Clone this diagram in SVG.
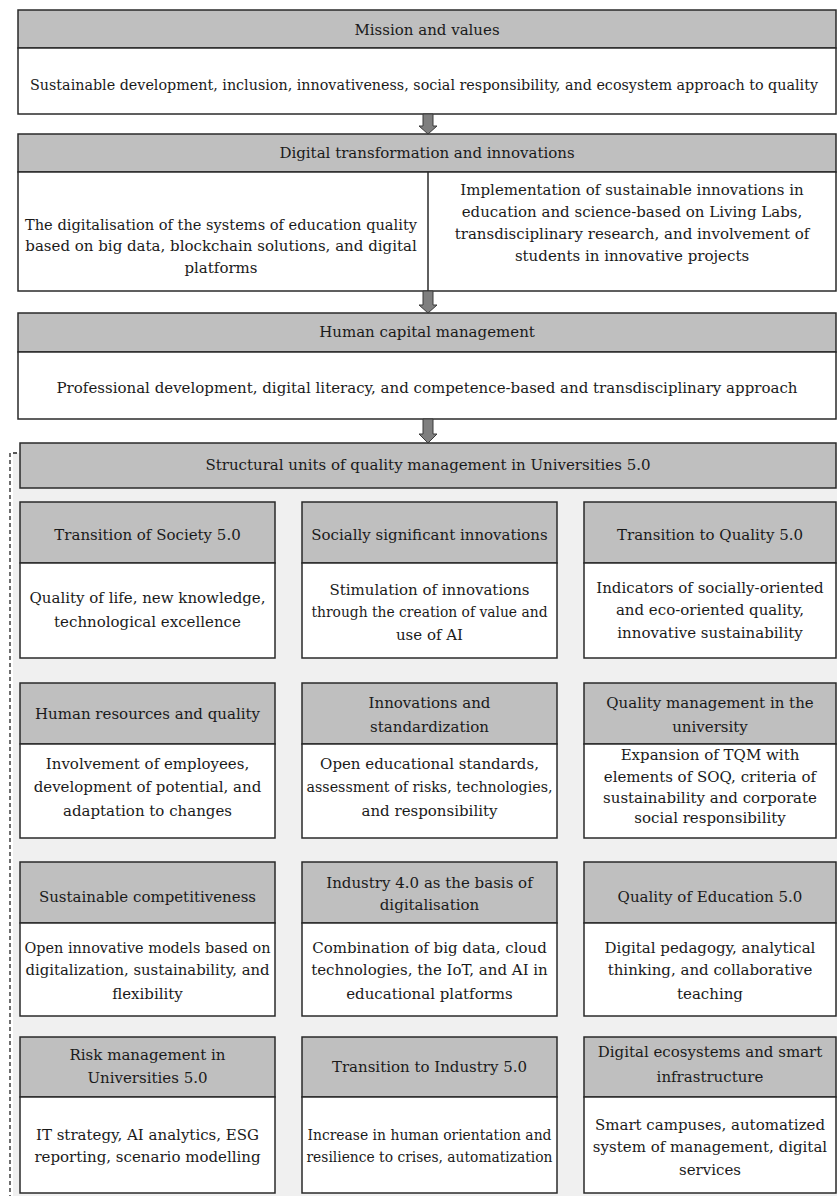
<svg xmlns="http://www.w3.org/2000/svg" width="837" height="1196" viewBox="0 0 837 1196" font-family="DejaVu Serif, serif" font-size="15">
<style>
.hd{fill:#bfbfbf;stroke:#2a2a2a;stroke-width:1.5}
.bd{fill:#ffffff;stroke:#2a2a2a;stroke-width:1.5}
.ln{stroke:#2a2a2a;stroke-width:1.5}
.t{fill:#1a1a1a;text-anchor:middle}
.arr{fill:#7f7f7f;stroke:#3a3a3a;stroke-width:1}
</style>
<rect x="0" y="0" width="837" height="1196" fill="#ffffff"/>
<rect x="13" y="453" width="830" height="750" fill="#f0f0f0"/>
<path d="M17,453 H10 V1196" fill="none" stroke="#222" stroke-width="1.3" stroke-dasharray="4,3"/>

<g id="mission" font-family="DejaVu Serif, serif" font-size="15">
<rect class="hd" x="18" y="10" width="818" height="38"/>
<rect class="bd" x="18" y="48" width="818" height="66"/>
<text class="t" x="427" y="35">Mission and values</text>
<text class="t" x="424" y="90" font-size="14.2" textLength="788" lengthAdjust="spacingAndGlyphs">Sustainable development, inclusion, innovativeness, social responsibility, and ecosystem approach to quality</text>
</g>

<g id="digital" font-family="DejaVu Serif, serif" font-size="15">
<rect class="hd" x="18" y="134" width="818" height="38"/>
<rect class="bd" x="18" y="172" width="818" height="119"/>
<line class="ln" x1="428" y1="172" x2="428" y2="291"/>
<text class="t" x="427" y="158">Digital transformation and innovations</text>
<text class="t" x="221" y="230" textLength="392" lengthAdjust="spacingAndGlyphs">The digitalisation of the systems of education quality</text>
<text class="t" x="221" y="251">based on big data, blockchain solutions, and digital</text>
<text class="t" x="221" y="273">platforms</text>
<text class="t" x="632" y="195">Implementation of sustainable innovations in</text>
<text class="t" x="632" y="217">education and science-based on Living Labs,</text>
<text class="t" x="632" y="239">transdisciplinary research, and involvement of</text>
<text class="t" x="632" y="261">students in innovative projects</text>
</g>

<g id="human" font-family="DejaVu Serif, serif" font-size="15">
<rect class="hd" x="18" y="313" width="818" height="39"/>
<rect class="bd" x="18" y="352" width="818" height="67"/>
<text class="t" x="427" y="337">Human capital management</text>
<text class="t" x="427" y="393">Professional development, digital literacy, and competence-based and transdisciplinary approach</text>
</g>

<g id="structural" font-family="DejaVu Serif, serif" font-size="15">
<rect class="hd" x="20" y="443" width="816" height="45"/>
<text class="t" x="428" y="470">Structural units of quality management in Universities 5.0</text>
</g>

<g id="connectors">
<path class="arr" d="M423,114 H433 V126 H437 L428,134 L419,126 H423 Z"/>
<path class="arr" d="M423,291 H433 V305 H437 L428,313 L419,305 H423 Z"/>
<path class="arr" d="M423,419 H433 V434 H437 L428,443 L419,434 H423 Z"/>
</g>

<g id="c11" font-family="DejaVu Serif, serif" font-size="15">
<rect class="hd" x="20" y="502" width="255" height="61"/>
<rect class="bd" x="20" y="563" width="255" height="95"/>
<text class="t" x="147.5" y="540">Transition of Society 5.0</text>
<text class="t" x="147.5" y="603">Quality of life, new knowledge,</text>
<text class="t" x="147.5" y="627">technological excellence</text>
</g>
<g id="c12" font-family="DejaVu Serif, serif" font-size="15">
<rect class="hd" x="302" y="502" width="255" height="61"/>
<rect class="bd" x="302" y="563" width="255" height="95"/>
<text class="t" x="429.5" y="540">Socially significant innovations</text>
<text class="t" x="429.5" y="595">Stimulation of innovations</text>
<text class="t" x="429.5" y="617" textLength="236" lengthAdjust="spacingAndGlyphs">through the creation of value and</text>
<text class="t" x="429.5" y="640">use of AI</text>
</g>
<g id="c13" font-family="DejaVu Serif, serif" font-size="15">
<rect class="hd" x="584" y="502" width="252" height="61"/>
<rect class="bd" x="584" y="563" width="252" height="95"/>
<text class="t" x="710" y="540">Transition to Quality 5.0</text>
<text class="t" x="710" y="593">Indicators of socially-oriented</text>
<text class="t" x="710" y="615">and eco-oriented quality,</text>
<text class="t" x="710" y="638">innovative sustainability</text>
</g>

<g id="c21" font-family="DejaVu Serif, serif" font-size="15">
<rect class="hd" x="20" y="683" width="255" height="61"/>
<rect class="bd" x="20" y="744" width="255" height="94"/>
<text class="t" x="147.5" y="719">Human resources and quality</text>
<text class="t" x="147.5" y="769">Involvement of employees,</text>
<text class="t" x="147.5" y="792">development of potential, and</text>
<text class="t" x="147.5" y="816">adaptation to changes</text>
</g>
<g id="c22" font-family="DejaVu Serif, serif" font-size="15">
<rect class="hd" x="302" y="683" width="255" height="61"/>
<rect class="bd" x="302" y="744" width="255" height="94"/>
<text class="t" x="429.5" y="708">Innovations and</text>
<text class="t" x="429.5" y="732">standardization</text>
<text class="t" x="429.5" y="769">Open educational standards,</text>
<text class="t" x="429.5" y="792" textLength="246" lengthAdjust="spacingAndGlyphs">assessment of risks, technologies,</text>
<text class="t" x="429.5" y="816">and responsibility</text>
</g>
<g id="c23" font-family="DejaVu Serif, serif" font-size="15">
<rect class="hd" x="584" y="683" width="252" height="61"/>
<rect class="bd" x="584" y="744" width="252" height="94"/>
<text class="t" x="710" y="708">Quality management in the</text>
<text class="t" x="710" y="732">university</text>
<text class="t" x="710" y="760">Expansion of TQM with</text>
<text class="t" x="710" y="782">elements of SOQ, criteria of</text>
<text class="t" x="710" y="803">sustainability and corporate</text>
<text class="t" x="710" y="823">social responsibility</text>
</g>

<g id="c31" font-family="DejaVu Serif, serif" font-size="15">
<rect class="hd" x="20" y="862" width="255" height="61"/>
<rect class="bd" x="20" y="923" width="255" height="93"/>
<text class="t" x="147.5" y="902">Sustainable competitiveness</text>
<text class="t" x="147.5" y="953" textLength="246" lengthAdjust="spacingAndGlyphs">Open innovative models based on</text>
<text class="t" x="147.5" y="975" textLength="244" lengthAdjust="spacingAndGlyphs">digitalization, sustainability, and</text>
<text class="t" x="147.5" y="999">flexibility</text>
</g>
<g id="c32" font-family="DejaVu Serif, serif" font-size="15">
<rect class="hd" x="302" y="862" width="255" height="61"/>
<rect class="bd" x="302" y="923" width="255" height="93"/>
<text class="t" x="429.5" y="888">Industry 4.0 as the basis of</text>
<text class="t" x="429.5" y="910">digitalisation</text>
<text class="t" x="429.5" y="953">Combination of big data, cloud</text>
<text class="t" x="429.5" y="975">technologies, the IoT, and AI in</text>
<text class="t" x="429.5" y="999">educational platforms</text>
</g>
<g id="c33" font-family="DejaVu Serif, serif" font-size="15">
<rect class="hd" x="584" y="862" width="252" height="61"/>
<rect class="bd" x="584" y="923" width="252" height="93"/>
<text class="t" x="710" y="902">Quality of Education 5.0</text>
<text class="t" x="710" y="953">Digital pedagogy, analytical</text>
<text class="t" x="710" y="975">thinking, and collaborative</text>
<text class="t" x="710" y="999">teaching</text>
</g>

<g id="c41" font-family="DejaVu Serif, serif" font-size="15">
<rect class="hd" x="20" y="1037" width="255" height="60"/>
<rect class="bd" x="20" y="1097" width="255" height="96"/>
<text class="t" x="147.5" y="1060">Risk management in</text>
<text class="t" x="147.5" y="1083">Universities 5.0</text>
<text class="t" x="147.5" y="1140">IT strategy, AI analytics, ESG</text>
<text class="t" x="147.5" y="1162">reporting, scenario modelling</text>
</g>
<g id="c42" font-family="DejaVu Serif, serif" font-size="15">
<rect class="hd" x="302" y="1037" width="255" height="60"/>
<rect class="bd" x="302" y="1097" width="255" height="96"/>
<text class="t" x="429.5" y="1072">Transition to Industry 5.0</text>
<text class="t" x="429.5" y="1140" textLength="244" lengthAdjust="spacingAndGlyphs">Increase in human orientation and</text>
<text class="t" x="429.5" y="1162" textLength="246" lengthAdjust="spacingAndGlyphs">resilience to crises, automatization</text>
</g>
<g id="c43" font-family="DejaVu Serif, serif" font-size="15">
<rect class="hd" x="584" y="1037" width="252" height="60"/>
<rect class="bd" x="584" y="1097" width="252" height="96"/>
<text class="t" x="710" y="1057">Digital ecosystems and smart</text>
<text class="t" x="710" y="1082">infrastructure</text>
<text class="t" x="710" y="1130">Smart campuses, automatized</text>
<text class="t" x="710" y="1152">system of management, digital</text>
<text class="t" x="710" y="1175">services</text>
</g>
</svg>
